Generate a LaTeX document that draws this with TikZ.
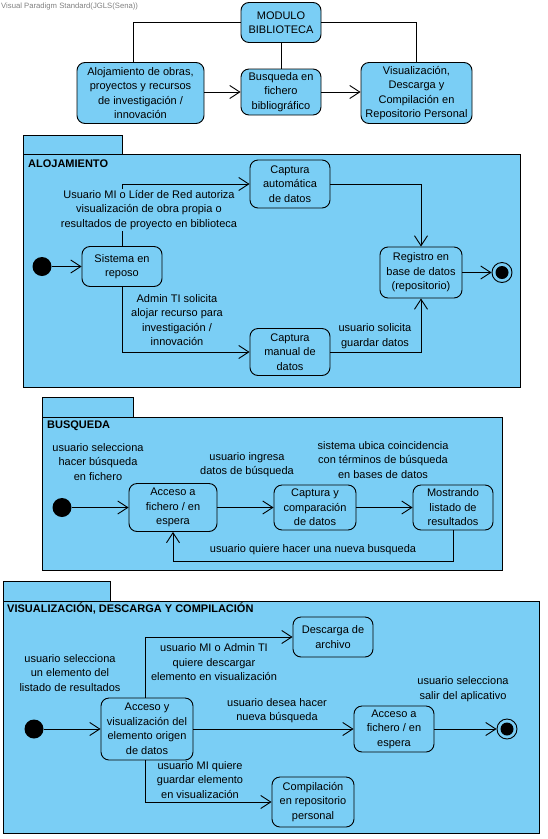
\documentclass[tikz,border=0pt]{standalone}
\usepackage{fontspec}
\setmainfont{Liberation Sans}
\usetikzlibrary{arrows.meta,calc}
\definecolor{vpblue}{RGB}{122,206,245}
\definecolor{hdrgray}{RGB}{128,128,128}
\tikzset{
  x=1pt, y=-1pt,
  every node/.style={font=\fontsize{11}{14.5}\selectfont},
  statebox/.style 2 args={draw, fill=vpblue, rounded corners=8pt, align=center,
    inner sep=0pt, line width=0.9pt, minimum width=#1pt, minimum height=#2pt},
  pkg/.style={draw, fill=vpblue, line width=0.9pt},
  initdot/.style={circle, fill=black, minimum size=19pt, inner sep=0pt},
  finalst/.style={circle, draw, line width=0.9pt, fill=vpblue, minimum size=20pt, inner sep=0pt,
    path picture={\fill[black] (path picture bounding box.center) circle (6.5pt);}},
  link/.style={line width=0.9pt},
  arr/.style={line width=0.9pt, -{Straight Barb[length=10pt,width=13pt,line width=0.9pt]}},
  lbl/.style={align=center, inner sep=1pt},
  ttl/.style={anchor=base west, inner sep=0pt, font=\bfseries\fontsize{11}{13}\selectfont},
}
\begin{document}
\begin{tikzpicture}
\useasboundingbox (0,0) rectangle (547,839);

% header line of the modelling tool
\node[anchor=west, inner sep=0pt, text=hdrgray, font=\fontsize{7.7}{9}\selectfont] (hdr) at (1,7)
  {Visual Paradigm Standard(JGLS(Sena))};

% ---------- module overview ----------
\node[statebox={80}{40}] (mod) at (281,22.5) {MODULO\\BIBLIOTECA};
\node[statebox={127}{61}] (aloj) at (140.5,93) {Alojamiento de obras,\\proyectos y recursos\\de investigación /\\innovación};
\node[statebox={80}{46}] (busq) at (281,92) {Busqueda en\\fichero\\bibliográfico};
\node[statebox={111}{61}] (visu) at (416.5,93) {Visualización,\\Descarga y\\Compilación en\\Repositorio Personal};

\draw[link] (mod.west) -| ([xshift=-7.5pt]aloj.north);
\draw[link] (mod.east) -| (visu.north);
\draw[link] (mod.south) -- (busq.north);
\draw[arr] (aloj.east |- busq) -- (busq.west);
\draw[arr] (busq.east) -- (visu.west |- busq);

% ---------- ALOJAMIENTO ----------
\draw[pkg] (23,135) rectangle (122,154);
\draw[pkg] (23,154) rectangle (520,387);
\node[ttl] (t1) at (28,167) {ALOJAMIENTO};

\node[initdot] (i1) at (42,266.5) {};
\node[statebox={80}{40}] (sis) at (122,266.5) {Sistema en\\reposo};
\node[statebox={80}{48}] (capa) at (290,184) {Captura\\automática\\de datos};
\node[statebox={82}{51}] (reg) at (421,272.5) {Registro en\\base de datos\\(repositorio)};
\node[finalst] (f1) at (502,272.5) {};
\node[statebox={80}{47}] (capm) at (290,352) {Captura\\manual de\\datos};

\draw[arr] (i1) -- (sis.west |- i1);
\draw[arr] (sis.north) |- (capa.west);
\draw[arr] (capa.east) -| (reg.north);
\draw[arr] (reg.east) -- (f1);
\draw[arr] (sis.south) |- (capm.west);
\draw[arr] (capm.east) -| (reg.south);

\node[lbl, fill=vpblue] (l1) at (149,210) {Usuario MI o Líder de Red autoriza\\visualización de obra propia o\\resultados de proyecto en biblioteca};
\node[lbl] (l2) at (177,320) {Admin TI solicita\\alojar recurso para\\investigación /\\innovación};
\node[lbl] (l3) at (375,336) {usuario solicita\\guardar datos};

% ---------- BUSQUEDA ----------
\draw[pkg] (42,397) rectangle (133,417);
\draw[pkg] (42,417) rectangle (502,570);
\node[ttl] (t2) at (47,428) {BUSQUEDA};

\node[initdot] (i2) at (62,507.5) {};
\node[statebox={88}{48}] (acc) at (173,507.5) {Acceso a\\fichero / en\\espera};
\node[statebox={82}{45}] (cap) at (315,507.5) {Captura y\\comparación\\de datos};
\node[statebox={80}{45}] (most) at (453,507.5) {Mostrando\\listado de\\resultados};
\coordinate (loopL) at (173,561);

\draw[arr] (i2) -- (acc.west);
\draw[arr] (acc.east) -- (cap.west);
\draw[arr] (cap.east) -- (most.west);
\draw[arr] (most.south) |- (loopL) -- (acc.south);

\node[lbl] (l4) at (98,462) {usuario selecciona\\hacer búsqueda\\en fichero};
\node[lbl] (l5) at (247,464.5) {usuario ingresa\\datos de búsqueda};
\node[lbl] (l6) at (383,460) {sistema ubica coincidencia\\con términos de búsqueda\\en bases de datos};
\node[lbl] (l7) at (313,550) {usuario quiere hacer una nueva busqueda};

% ---------- VISUALIZACIÓN, DESCARGA Y COMPILACIÓN ----------
\draw[pkg] (3,581) rectangle (110,601);
\draw[pkg] (3,601) rectangle (539,833);
\node[ttl] (t3) at (7,612) {VISUALIZACIÓN, DESCARGA Y COMPILACIÓN};

\node[initdot] (i3) at (34,729) {};
\node[statebox={92}{62}] (accv) at (147,729) {Acceso y\\visualización del\\elemento origen\\de datos};
\node[statebox={80}{40}] (desc) at (333,637) {Descarga de\\archivo};
\node[statebox={80}{46}] (accf) at (394,729) {Acceso a\\fichero / en\\espera};
\node[finalst] (f3) at (507,729) {};
\node[statebox={82}{50}] (comp) at (313,802) {Compilación\\en repositorio\\personal};

\draw[arr] (i3) -- (accv.west);
\draw[arr] ([xshift=-2pt]accv.north) |- (desc.west);
\draw[arr] (accv.east) -- (accf.west);
\draw[arr] (accf.east) -- (f3);
\draw[arr] ([xshift=-2pt]accv.south) |- (comp.west);

\node[lbl] (l8) at (70,673) {usuario selecciona\\un elemento del\\listado de resultados};
\node[lbl] (l9) at (214,662.5) {usuario MI o Admin TI\\quiere descargar\\elemento en visualización};
\node[lbl] (l10) at (277,710.5) {usuario desea hacer\\nueva búsqueda};
\node[lbl] (l11) at (463,689) {usuario selecciona\\salir del aplicativo};
\node[lbl] (l12) at (200,780) {usuario MI quiere\\guardar elemento\\en visualización};
\end{tikzpicture}
\end{document}
